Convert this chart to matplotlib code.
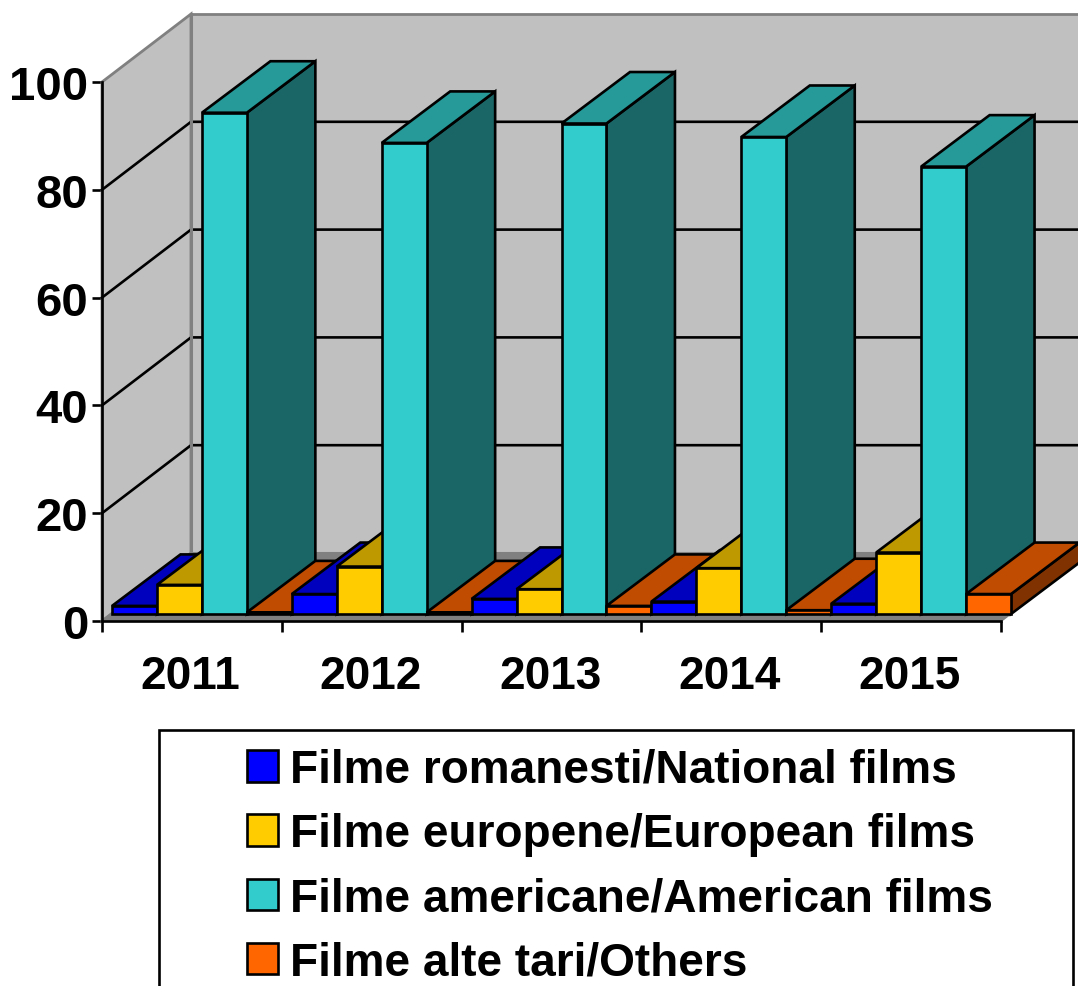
import matplotlib
matplotlib.use('Agg')
import matplotlib.pyplot as plt
from matplotlib.patches import Polygon, Rectangle, Patch

plt.rcParams['font.family'] = ['Liberation Sans', 'DejaVu Sans']
plt.rcParams['font.weight'] = 'bold'

years = ['2011', '2012', '2013', '2014', '2015']
y_ticks = [0, 20, 40, 60, 80, 100]

national = [1.5, 3.7, 2.8, 2.3, 1.9]
european = [5.4, 8.8, 4.6, 8.5, 11.4]
american = [93.0, 87.4, 91.0, 88.5, 83.0]
others = [0.3, 0.3, 1.5, 0.7, 3.7]

labels = ['Filme romanesti/National films', 'Filme europene/European films',
          'Filme americane/American films', 'Filme alte tari/Others']
front_colors = ['#0000FF', '#FFCC00', '#33CCCC', '#FF6600']
top_colors = ['#0000BF', '#BF9900', '#269999', '#BF4C00']
side_colors = ['#000080', '#806600', '#1A6666', '#803300']

W, H = 1078, 987
# front plane of the fake 3D box, in pixels
LEFT, RIGHT, TOP, BOTTOM = 102, 1001, 83, 622
PX_X = (RIGHT - LEFT) / 5
PX_Y = (BOTTOM - TOP) / 100

# depths, converted to data units
wall_dx, wall_dy = 89 / PX_X, 68 / PX_Y
bar_dx, bar_dy = 68.5 / PX_X, 51.5 / PX_Y
gap_dx, gap_dy = 10 / PX_X, 7 / PX_Y
bar_w = 0.25

EDGE = 1.9
GRAY = '#808080'

fig = plt.figure(figsize=(W / 100, H / 100), dpi=100)
ax = fig.add_axes([LEFT / W, 1 - BOTTOM / H, (RIGHT - LEFT) / W, (BOTTOM - TOP) / H])
ax.set_xlim(0, 5)
ax.set_ylim(0, 100)
ax.patch.set_visible(False)


def poly(pts, face, edge='black', lw=EDGE, z=2):
    ax.add_patch(Polygon(pts, closed=True, facecolor=face, edgecolor=edge, linewidth=lw,
                         clip_on=False, zorder=z, joinstyle='miter'))


# walls and floor
poly([(0, 0), (0, 100), (wall_dx, 100 + wall_dy), (wall_dx, wall_dy)], '#C0C0C0', GRAY, 2)
poly([(wall_dx, wall_dy), (wall_dx, 100 + wall_dy), (5 + wall_dx, 100 + wall_dy), (5 + wall_dx, wall_dy)],
     '#C0C0C0', GRAY, 2)
poly([(0, 0), (5, 0), (5 + wall_dx, wall_dy), (wall_dx, wall_dy)], GRAY, GRAY, 1.5)

# gridlines along side wall and back wall
for t in y_ticks[1:-1]:
    ax.plot([0, wall_dx, 5 + wall_dx], [t, t + wall_dy, t + wall_dy], color='black', lw=EDGE,
            clip_on=False, zorder=3, solid_joinstyle='miter')
ax.plot([wall_dx, wall_dx], [wall_dy, 100 + wall_dy], color=GRAY, lw=2.2, clip_on=False, zorder=3)

# bars, painted left to right so nearer ones cover the right things
series = [national, european, american, others]
for i in range(len(years)):
    for j, values in enumerate(series):
        v = values[i]
        x0 = i + gap_dx + j * bar_w
        x1 = x0 + bar_w
        y0 = gap_dy
        y1 = gap_dy + v
        poly([(x1, y0), (x1, y1), (x1 + bar_dx, y1 + bar_dy), (x1 + bar_dx, y0 + bar_dy)], side_colors[j], z=4)
        poly([(x0, y1), (x1, y1), (x1 + bar_dx, y1 + bar_dy), (x0 + bar_dx, y1 + bar_dy)], top_colors[j], z=4)
        poly([(x0, y0), (x1, y0), (x1, y1), (x0, y1)], front_colors[j], z=4)

# axes
for s in ['top', 'right']:
    ax.spines[s].set_visible(False)
for s in ['left', 'bottom']:
    ax.spines[s].set_linewidth(EDGE)
    ax.spines[s].set_zorder(6)
ax.set_xticks(range(6))
ax.set_xticklabels([''] * 6)
ax.set_yticks(y_ticks)
ax.set_yticklabels([str(t) for t in y_ticks], fontsize=34, fontweight='bold')
ax.tick_params(axis='y', length=7, width=EDGE, pad=3)
ax.tick_params(axis='x', length=8, width=EDGE)
for i, year in enumerate(years):
    ax.annotate(year, (i + 0.5, 0), xytext=(-1, -24), textcoords='offset points', ha='center', va='top',
                fontsize=33, fontweight='bold', annotation_clip=False)

# legend box runs off the bottom of the picture
fig.add_artist(Rectangle((159 / W, 1 - 1010 / H), (1073 - 159) / W, (1010 - 731) / H,
                         transform=fig.transFigure, facecolor='white', edgecolor='black', linewidth=EDGE))
handles = [Patch(facecolor=c, edgecolor='black', linewidth=EDGE) for c in front_colors]
leg = fig.legend(handles, labels, loc='upper left', bbox_to_anchor=(247 / W, 1 - 749 / H),
                 frameon=False, fontsize=33.1, borderpad=0, borderaxespad=0,
                 handlelength=0.67, handleheight=0.67, handletextpad=0.27, labelspacing=0.44)
leg.set_zorder(10)

fig.savefig('out.png', dpi=100)
